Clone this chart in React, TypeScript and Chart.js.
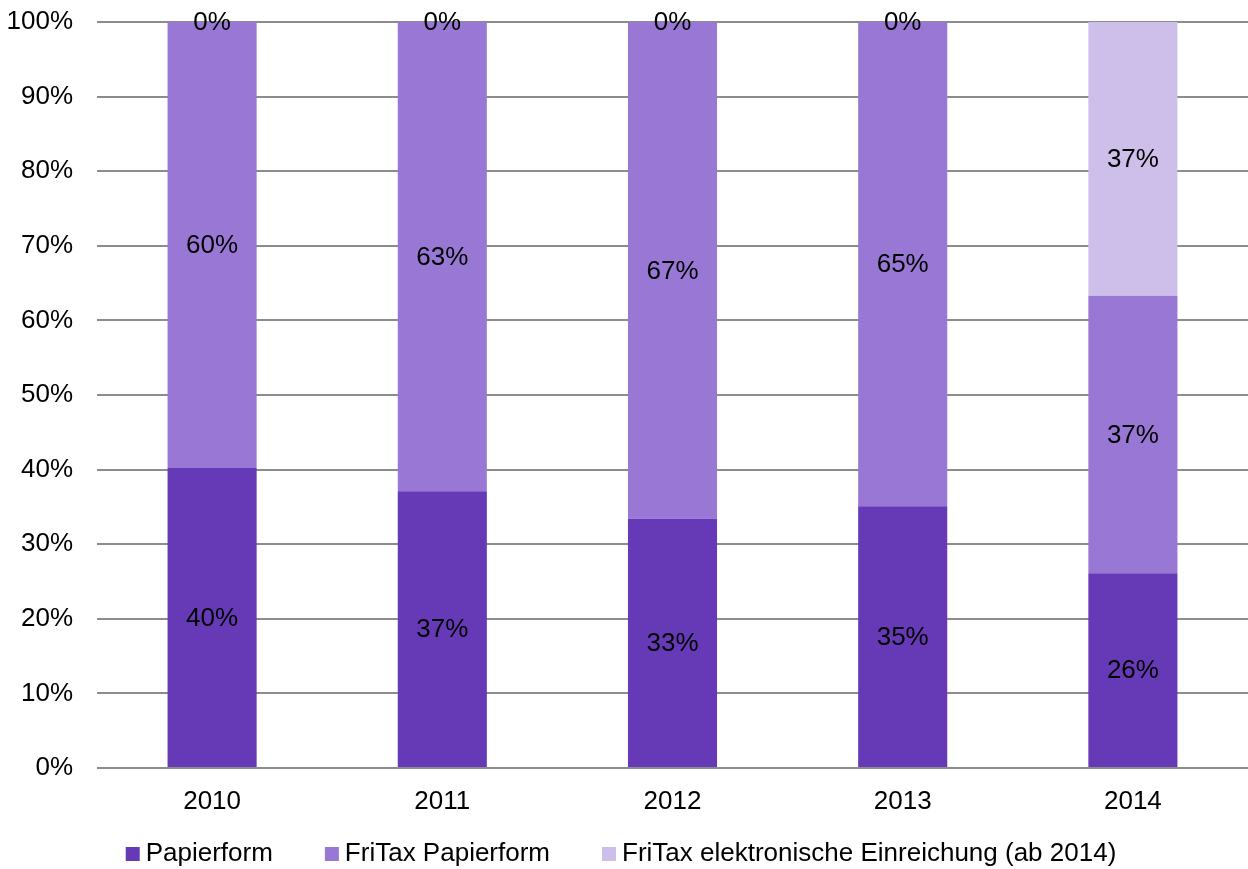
import React, { useEffect, useRef } from "react";
import { Chart, registerables } from "chart.js";

Chart.register(...registerables);

const categories = ["2010", "2011", "2012", "2013", "2014"];
const papierform = [40.2, 37.1, 33.4, 35.1, 26.1];
const fritaxPapier = [59.8, 62.9, 66.6, 64.9, 37.2];
const fritaxElektronisch = [0, 0, 0, 0, 36.7];
const seriesNames = ["Papierform", "FriTax Papierform", "FriTax elektronische Einreichung (ab 2014)"];
const seriesColors = ["#6639B6", "#9878D4", "#CDBFEA"];
const yTickMax = 100;
const yTickStep = 10;

const FONT = "'Liberation Sans', Arial, sans-serif";
const FONT_SIZE = 26;

const dataLabelPlugin = {
  id: "dataLabels",
  afterDatasetsDraw(chart: any) {
    const ctx = chart.ctx;
    ctx.save();
    ctx.font = `${FONT_SIZE}px ${FONT}`;
    ctx.fillStyle = "#000";
    ctx.textAlign = "center";
    ctx.textBaseline = "middle";
    chart.data.datasets.forEach((ds: any, di: number) => {
      const meta = chart.getDatasetMeta(di);
      meta.data.forEach((el: any, i: number) => {
        const { x, y, base } = el.getProps(["x", "y", "base"], true);
        const v = ds.data[i];
        ctx.fillText(Math.round(v) + "%", x, (y + base) / 2 + 1);
      });
    });
    ctx.restore();
  },
};

const legendPlugin = {
  id: "customLegend",
  afterDraw(chart: any) {
    const ctx = chart.ctx;
    ctx.save();
    ctx.font = `${FONT_SIZE}px ${FONT}`;
    const box = 14;
    const gapText = 6;
    const gapItem = 52;
    const widths = seriesNames.map((n) => box + gapText + ctx.measureText(n).width);
    const total = widths.reduce((a, b) => a + b, 0) + gapItem * (widths.length - 1);
    let x = 621 - total / 2;
    const cy = 854;
    ctx.textBaseline = "middle";
    ctx.textAlign = "left";
    seriesNames.forEach((n, i) => {
      ctx.fillStyle = seriesColors[i];
      ctx.fillRect(x, cy - box / 2, box, box);
      ctx.fillStyle = "#000";
      ctx.fillText(n, x + box + gapText, cy);
      x += widths[i] + gapItem;
    });
    ctx.restore();
  },
};

export default function App() {
  const canvasRef = useRef<HTMLCanvasElement | null>(null);

  useEffect(() => {
    if (!canvasRef.current) return;
    const chart = new Chart(canvasRef.current, {
      type: "bar",
      data: {
        labels: categories,
        datasets: [papierform, fritaxPapier, fritaxElektronisch].map((d, i) => ({
          label: seriesNames[i],
          data: d,
          backgroundColor: seriesColors[i],
          borderWidth: 0,
          barPercentage: 0.387,
          categoryPercentage: 1,
        })),
      },
      options: {
        animation: false,
        responsive: true,
        maintainAspectRatio: false,
        layout: { padding: { top: 22, right: 0, bottom: 0, left: 0 } },
        plugins: {
          legend: { display: false },
          tooltip: { enabled: false },
        },
        scales: {
          x: {
            stacked: true,
            grid: { display: false },
            border: { display: false },
            ticks: {
              color: "#000",
              font: { family: FONT, size: FONT_SIZE },
              padding: 10,
            },
            afterFit: (scale: any) => {
              scale.height = 101;
            },
          },
          y: {
            stacked: true,
            min: 0,
            max: yTickMax,
            border: { display: false },
            grid: {
              color: "#8c8c8c",
              lineWidth: 2,
              drawTicks: false,
            },
            ticks: {
              stepSize: yTickStep,
              color: "#000",
              font: { family: FONT, size: FONT_SIZE },
              padding: 24,
              callback: (v: any) => v + "%",
            },
            afterFit: (scale: any) => {
              scale.width = 97;
              scale.paddingTop = 0;
              scale.paddingBottom = 0;
            },
          },
        },
      },
      plugins: [dataLabelPlugin, legendPlugin],
    });
    return () => chart.destroy();
  }, []);

  return (
    <div style={{ position: "fixed", left: 0, top: 0, width: 1248, height: 869, background: "#fff" }}>
      <canvas ref={canvasRef} />
    </div>
  );
}
